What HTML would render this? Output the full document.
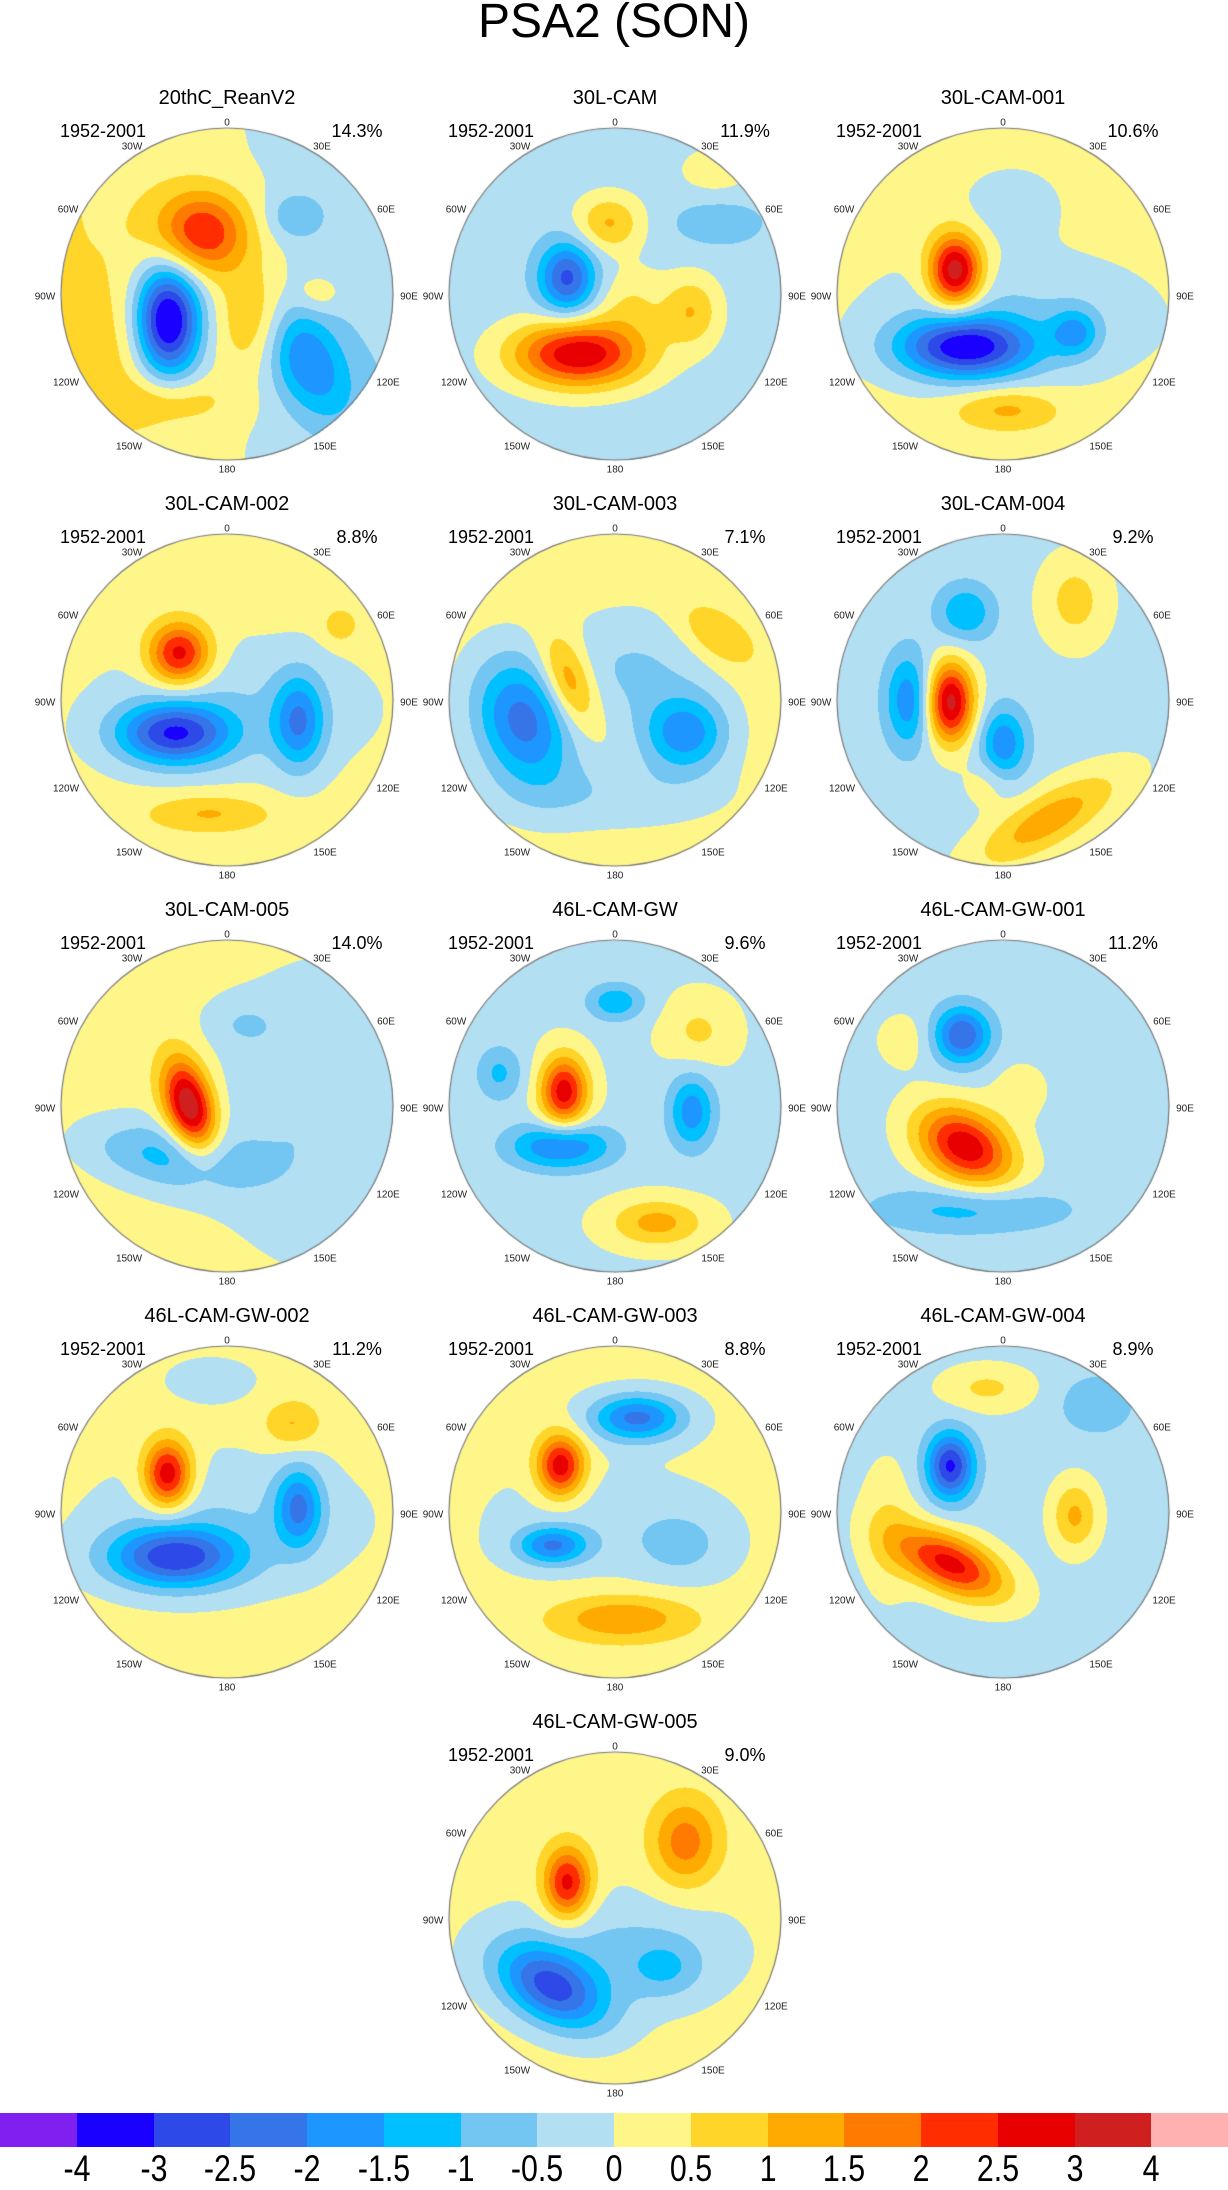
<!DOCTYPE html>
<html><head><meta charset="utf-8">
<style>
html,body{margin:0;padding:0;background:#fff;}
body{width:1228px;height:2186px;position:relative;overflow:hidden;font-family:"Liberation Sans",sans-serif;}
.t{position:absolute;white-space:nowrap;color:#000;}
.main{left:0;width:1228px;text-align:center;top:-6px;font-size:48px;}
.ptitle{font-size:20px;transform:translateX(-50%);}
.side{font-size:18px;transform:translateX(-50%);}
.tick{font-size:10px;transform:translate(-50%,-50%);color:#222;}
canvas{position:absolute;}
.cb{position:absolute;top:2113px;height:34px;}
.cbl{position:absolute;top:2148px;font-size:37px;transform:translateX(-50%) scaleX(0.82);}
</style></head><body>
<div class="t main">PSA2 (SON)</div>
<div id="root"></div>
<div id="cbar"></div>
<script>
// contour levels and colours
const levels = [-4,-3,-2.5,-2,-1.5,-1,-0.5,0,0.5,1,1.5,2,2.5,3,4];
const colors = ["#8020f0","#1a00ff","#2d4ae8","#3575e8","#1e96ff","#00c0ff","#73c6f2","#b2dff2","#fff68a","#ffd52a","#ffaa00","#ff7a00","#ff2d00","#e80000","#d01f1f","#ffb0b0"];
const cbLabels = ["-4","-3","-2.5","-2","-1.5","-1","-0.5","0","0.5","1","1.5","2","2.5","3","4"];
// panel metadata
const names = ["20thC_ReanV2","30L-CAM","30L-CAM-001","30L-CAM-002","30L-CAM-003","30L-CAM-004","30L-CAM-005","46L-CAM-GW","46L-CAM-GW-001","46L-CAM-GW-002","46L-CAM-GW-003","46L-CAM-GW-004","46L-CAM-GW-005"];
const pcts = ["14.3%","11.9%","10.6%","8.8%","7.1%","9.2%","14.0%","9.6%","11.2%","11.2%","8.8%","8.9%","9.0%"];
// background: [base, x-gradient, y-gradient]
const bgs = [[0.05,-0.5,0],[-0.25,0,0],[0.2,0,0],[0.2,0,0],[0.25,0,0],[-0.2,0,0],[0.15,-0.1,0],[-0.1,0,0],[-0.2,0,0],[0.2,0,0],[0.15,0,0],[-0.2,0,0],[0.2,0,0]];
// blobs: [u, v, sx, sy, rotDeg, amp]  (u,v normalised to map radius)
const blobs = [
 [[-0.36,0.16,0.14,0.24,0,-4.2],[-0.15,-0.37,0.2,0.18,0,2.4],[0.18,0.14,0.15,0.22,0,1.3],[0.46,0.38,0.16,0.28,-30,-1.9],[0.4,-0.47,0.12,0.1,0,-0.8],[-0.33,0.64,0.25,0.1,0,0.7],[0.55,0,0.1,0.08,0,0.6],[-0.55,0.3,0.25,0.3,0,0.5]],
 [[-0.22,0.36,0.28,0.14,0,3.2],[-0.29,-0.1,0.12,0.15,0,-2.4],[-0.04,-0.43,0.14,0.12,0,1.3],[0.46,0.1,0.12,0.15,0,1.2],[0.1,0.05,0.15,0.15,0,0.7],[0.62,-0.43,0.2,0.1,0,-0.6],[0.6,-0.75,0.15,0.1,0,0.6]],
 [[-0.29,-0.14,0.11,0.15,0,3.4],[-0.23,0.32,0.28,0.13,0,-3.2],[0.43,0.23,0.1,0.1,0,-1.4],[0.05,0.15,0.6,0.28,0,-0.7],[0.02,0.69,0.22,0.09,0,1.0],[0.05,-0.55,0.2,0.15,0,-0.5]],
 [[-0.29,-0.28,0.13,0.13,0,2.7],[-0.32,0.2,0.24,0.13,0,-2.9],[0.43,0.13,0.11,0.2,0,-1.9],[0.05,0.05,0.6,0.3,0,-0.6],[-0.11,0.68,0.26,0.08,0,0.9],[0.68,-0.45,0.07,0.07,0,0.8]],
 [[-0.56,0.13,0.2,0.28,-20,-2.4],[-0.28,-0.11,0.1,0.2,-20,1.7],[0.42,0.2,0.18,0.16,0,-2.0],[0.11,-0.19,0.35,0.25,0,-0.8],[0.61,-0.39,0.18,0.1,35,0.9],[0,0.57,0.5,0.15,0,-0.6]],
 [[-0.32,0.01,0.1,0.17,0,3.4],[-0.57,0,0.1,0.2,0,-1.7],[0,0.26,0.1,0.15,0,-1.7],[-0.23,-0.53,0.12,0.12,0,-1.3],[0.27,0.72,0.35,0.12,-30,1.5],[0.43,-0.6,0.15,0.2,0,0.9],[-0.1,0.5,0.1,0.1,0,0.5]],
 [[-0.23,0,0.1,0.2,-15,3.5],[-0.36,0.3,0.35,0.14,10,-1.3],[0.45,0.05,0.4,0.5,0,-0.6],[0.1,-0.5,0.15,0.1,0,-0.5]],
 [[-0.31,-0.09,0.1,0.15,0,2.9],[-0.33,0.24,0.22,0.1,0,-2.0],[0.46,0.03,0.1,0.16,0,-1.7],[0,-0.63,0.12,0.08,0,-1.3],[-0.7,-0.2,0.1,0.12,0,-1.0],[0.25,0.7,0.2,0.1,0,1.3],[0.5,-0.45,0.15,0.15,0,0.7]],
 [[-0.23,0.24,0.22,0.15,30,3.1],[-0.25,-0.43,0.12,0.12,0,-2.3],[-0.2,0.62,0.4,0.1,0,-1.0],[0.1,-0.1,0.12,0.12,0,0.5],[-0.6,-0.4,0.12,0.12,0,0.5]],
 [[-0.36,-0.23,0.1,0.14,0,2.9],[-0.32,0.27,0.28,0.13,0,-2.8],[0.43,-0.03,0.1,0.17,0,-2.0],[0,0.05,0.6,0.3,0,-0.6],[0.39,-0.53,0.12,0.1,0,0.9],[-0.1,-0.8,0.2,0.1,0,-0.5]],
 [[-0.33,-0.28,0.1,0.13,0,2.8],[0.13,-0.57,0.2,0.1,0,-2.3],[-0.38,0.2,0.15,0.08,0,-2.0],[0.04,0.64,0.3,0.1,0,1.3],[0.4,0.2,0.2,0.15,0,-0.7],[-0.1,0.05,0.5,0.25,0,-0.4]],
 [[-0.32,-0.28,0.1,0.14,0,-2.9],[-0.32,0.31,0.25,0.12,25,2.9],[0.43,0.02,0.1,0.15,0,1.3],[0.56,-0.65,0.15,0.12,0,-0.8],[-0.1,-0.75,0.2,0.1,0,0.8],[-0.7,0.1,0.12,0.3,0,0.6]],
 [[-0.29,-0.21,0.1,0.15,0,2.6],[-0.38,0.42,0.25,0.15,30,-2.6],[0.42,-0.46,0.14,0.18,0,1.6],[0,0.2,0.5,0.25,0,-0.8],[0.3,0.3,0.15,0.12,0,-0.8]]
];
const colX = [227,615,1003], rowY = [294,700,1106,1512,1918], R = 166;
const tickLabels = ["0","30E","60E","90E","120E","150E","180","150W","120W","90W","60W","30W"];
const tickOff = [[0,-171],[95,-147],[159,-84],[182,3],[161,89],[98,153],[0,176],[-98,153],[-161,89],[-182,3],[-159,-84],[-95,-147]];

function level(v){let i=0;while(i<levels.length&&v>=levels[i])i++;return i;}
function hex(h){return [parseInt(h.slice(1,3),16),parseInt(h.slice(3,5),16),parseInt(h.slice(5,7),16)];}
const rgb = colors.map(hex);
const root = document.getElementById('root');

names.forEach((nm,p)=>{
  const cx = p<12 ? colX[p%3] : colX[1];
  const cy = rowY[Math.floor(p/3)];
  const t = document.createElement('div');
  t.className='t ptitle'; t.style.left=cx+'px'; t.style.top=(cy-207)+'px'; t.textContent=nm;
  
  
  root.appendChild(t);
  const y1 = document.createElement('div');
  y1.className='t side'; y1.style.left=(cx-124)+'px'; y1.style.top=(cy-173)+'px'; y1.textContent='1952-2001';
  
  
  root.appendChild(y1);
  const pc = document.createElement('div');
  pc.className='t side'; pc.style.left=(cx+130)+'px'; pc.style.top=(cy-173)+'px'; pc.textContent=pcts[p];
  
  
  root.appendChild(pc);
  tickLabels.forEach((tl,k)=>{
    const d=document.createElement('div');
    d.className='t tick'; d.style.left=(cx+tickOff[k][0])+'px'; d.style.top=(cy+tickOff[k][1])+'px'; d.textContent=tl;
    
    
    root.appendChild(d);
  });
  const S = 2*R+4;
  const c = document.createElement('canvas');
  c.width=S; c.height=S; c.style.left=(cx-S/2)+'px'; c.style.top=(cy-S/2)+'px';
  
  
  root.appendChild(c);
  const ctx=c.getContext('2d');
  const img=ctx.createImageData(S,S);
  const bl = blobs[p].map(b=>{const a=b[4]*Math.PI/180;return [b[0],b[1],b[2],b[3],Math.cos(a),Math.sin(a),b[5]];});
  const bg = bgs[p];
  for(let j=0;j<S;j++)for(let i=0;i<S;i++){
    const u=(i-S/2)/R, v=(j-S/2)/R;
    if(u*u+v*v>1) continue;
    let f=bg[0]+bg[1]*u+bg[2]*v;
    for(const b of bl){
      const dx=u-b[0], dy=v-b[1];
      const a=(dx*b[4]+dy*b[5])/b[2], e=(-dx*b[5]+dy*b[4])/b[3];
      f+=b[6]*Math.exp(-0.5*(a*a+e*e));
    }
    const col=rgb[level(f)], o=(j*S+i)*4;
    img.data[o]=col[0];img.data[o+1]=col[1];img.data[o+2]=col[2];img.data[o+3]=255;
  }
  ctx.putImageData(img,0,0);
  ctx.beginPath();ctx.arc(S/2,S/2,R,0,2*Math.PI);ctx.strokeStyle='#777';ctx.lineWidth=1.2;ctx.stroke();
});

const cbar=document.getElementById('cbar');
const w=1228/colors.length;
colors.forEach((c,k)=>{
  const d=document.createElement('div');
  d.className='cb'; d.style.left=(k*w)+'px'; d.style.width=(w+0.5)+'px'; d.style.background=c;
  
  
  cbar.appendChild(d);
});
cbLabels.forEach((l,k)=>{
  const d=document.createElement('div');
  d.className='t cbl'; d.style.left=((k+1)*w)+'px'; d.textContent=l;
  
  
  cbar.appendChild(d);
});
</script>
</body></html>
